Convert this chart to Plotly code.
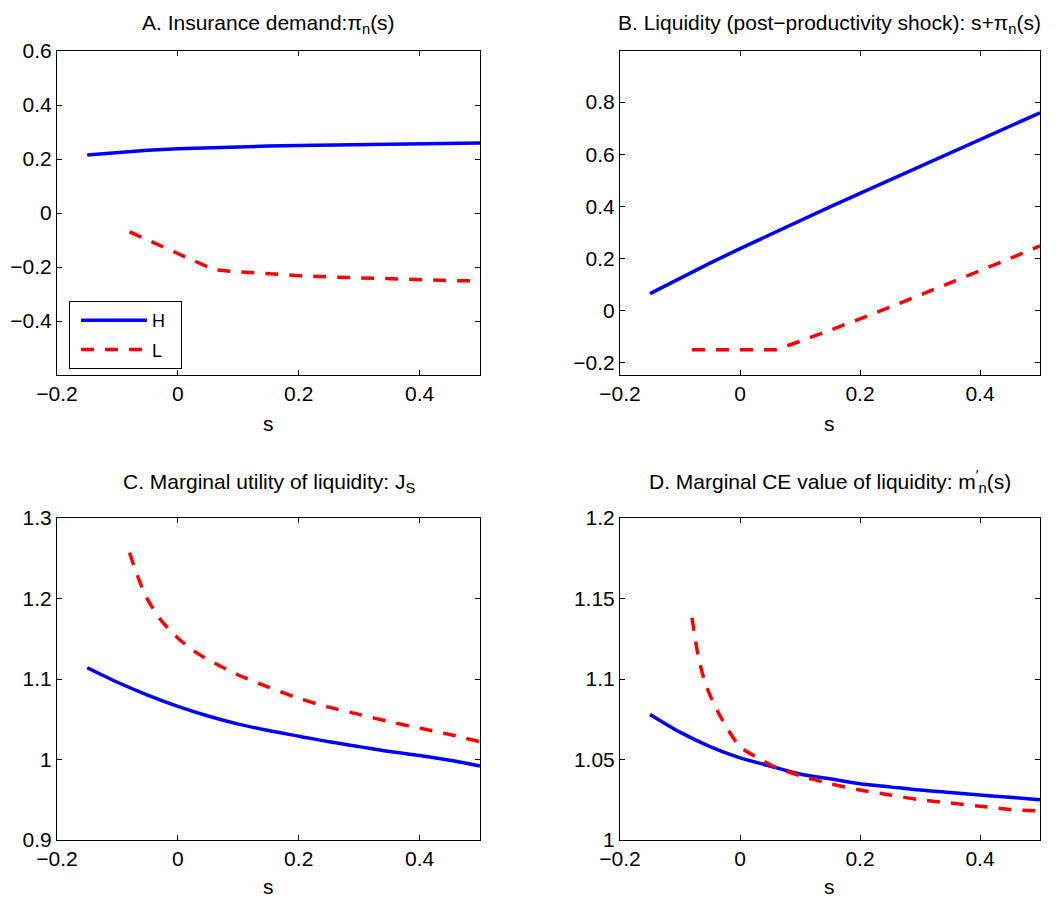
import plotly.graph_objects as go

# ---------------- data ----------------
s_H = [-0.15, -0.10, -0.05, 0.00, 0.05, 0.10, 0.15, 0.20, 0.25, 0.30, 0.35, 0.40, 0.45, 0.50]
s_L = [-0.08, -0.07, -0.06, -0.05, -0.03, 0.00, 0.03, 0.06, 0.10, 0.15, 0.20, 0.25, 0.30, 0.35, 0.40, 0.45, 0.50]

# A. insurance demand pi_n(s)
pi_H = [0.215, 0.225, 0.232, 0.238, 0.242, 0.245, 0.248, 0.250, 0.252, 0.254, 0.255, 0.257, 0.258, 0.259]
pi_L = [-0.070, -0.080, -0.090, -0.100, -0.120, -0.150, -0.180, -0.210, -0.218, -0.226, -0.232,
        -0.237, -0.241, -0.245, -0.248, -0.250, -0.252]

# B. liquidity s + pi_n(s)
liq_H = [s + p for s, p in zip(s_H, pi_H)]
liq_L = [s + p for s, p in zip(s_L, pi_L)]

# C. marginal utility of liquidity J_S
J_H = [1.114, 1.096, 1.080, 1.066, 1.054, 1.044, 1.036, 1.029, 1.022, 1.016, 1.010, 1.005, 0.999, 0.992]
J_L = [1.257, 1.235, 1.215, 1.199, 1.175, 1.151, 1.133, 1.120, 1.105, 1.090, 1.076, 1.065, 1.056,
       1.047, 1.039, 1.031, 1.022]

# D. marginal CE value of liquidity m'_n(s)
m_H = [1.078, 1.067, 1.058, 1.051, 1.046, 1.041, 1.038, 1.035, 1.033, 1.031, 1.0295, 1.028, 1.0265, 1.025]
m_L = [1.138, 1.115, 1.100, 1.090, 1.075, 1.058, 1.051, 1.045, 1.040, 1.035, 1.031, 1.028, 1.025,
       1.023, 1.021, 1.019, 1.018]

x_ticks = [-0.2, 0, 0.2, 0.4]
x_ticktext = ["\u22120.2", "0", "0.2", "0.4"]
yA_ticks = [-0.4, -0.2, 0, 0.2, 0.4, 0.6]
yA_text = ["\u22120.4", "\u22120.2", "0", "0.2", "0.4", "0.6"]
yB_ticks = [-0.2, 0, 0.2, 0.4, 0.6, 0.8]
yB_text = ["\u22120.2", "0", "0.2", "0.4", "0.6", "0.8"]
yC_ticks = [0.9, 1.0, 1.1, 1.2, 1.3]
yC_text = ["0.9", "1", "1.1", "1.2", "1.3"]
yD_ticks = [1.0, 1.05, 1.1, 1.15, 1.2]
yD_text = ["1", "1.05", "1.1", "1.15", "1.2"]

titles = [
    "A. Insurance demand:\u03c0<sub>n</sub>(s)",
    "B. Liquidity (post\u2212productivity shock): s+\u03c0<sub>n</sub>(s)",
    "C. Marginal utility of liquidity: J<sub>S</sub>",
    "D. Marginal CE value of liquidity: m<sup>\u2032</sup><sub>n</sub>(s)",
]
legend_names = ["H", "L"]

# ---------------- layout helpers ----------------
OFF = 0
W, H = 1062, 901
FONT = "Liberation Sans, Arial, Helvetica, sans-serif"
FS = 21


def px_x(x):
    return (x - OFF) / W


def px_y(y):
    return 1 - (y - OFF) / H


BLUE = "rgb(0,0,255)"
RED = "rgb(255,0,0)"
LW = 3.5
DASH = "13px,11px"

xdoms = [(px_x(57), px_x(480)), (px_x(620), px_x(1040))]
ydoms = [(px_y(375), px_y(51)), (px_y(840), px_y(518))]
title_bottom_px = [39, 498]
xlabel_px = [423, 886]

fig = go.Figure()

panels = [
    (s_H, pi_H, s_L, pi_L, [-0.6, 0.6], yA_ticks, yA_text, "linear"),
    (s_H, liq_H, s_L, liq_L, [-0.247, 0.996], yB_ticks, yB_text, "linear"),
    (s_H, J_H, s_L, J_L, [0.9, 1.3], yC_ticks, yC_text, "spline"),
    (s_H, m_H, s_L, m_L, [1.0, 1.2], yD_ticks, yD_text, "spline"),
]

for i, (xh, yh, xl, yl, yr, yt, ytt, shape) in enumerate(panels):
    n = i + 1
    xa = "x" if n == 1 else f"x{n}"
    ya = "y" if n == 1 else f"y{n}"
    fig.add_trace(go.Scatter(x=xh, y=yh, mode="lines", name=legend_names[0] + "\u00a0\u00a0",
                             xaxis=xa, yaxis=ya, legendgroup="H",
                             line=dict(color=BLUE, width=LW, shape=shape, smoothing=0.8),
                             showlegend=(n == 1)))
    fig.add_trace(go.Scatter(x=xl, y=yl, mode="lines", name=legend_names[1] + "\u00a0\u00a0",
                             xaxis=xa, yaxis=ya, legendgroup="L",
                             line=dict(color=RED, width=LW, dash=DASH, shape=shape, smoothing=0.8),
                             showlegend=(n == 1)))
    col = i % 2
    row = i // 2
    axis_common = dict(showgrid=False, zeroline=False, showline=True, linecolor="black",
                       linewidth=1, mirror="allticks", ticks="inside", ticklen=5,
                       tickcolor="black", automargin=False,
                       tickfont=dict(family=FONT, size=FS, color="black"))
    xkey = "xaxis" if n == 1 else f"xaxis{n}"
    ykey = "yaxis" if n == 1 else f"yaxis{n}"
    fig.update_layout({
        xkey: dict(domain=list(xdoms[col]), range=[-0.2, 0.5], anchor=ya,
                   tickvals=x_ticks, ticktext=x_ticktext, **axis_common),
        ykey: dict(domain=list(ydoms[row]), range=yr, anchor=xa,
                   tickvals=yt, ticktext=ytt, **axis_common),
    })
    cx = (xdoms[col][0] + xdoms[col][1]) / 2
    fig.add_annotation(text=titles[i], x=cx, y=px_y(title_bottom_px[row]), xref="paper", yref="paper",
                       xanchor="center", yanchor="bottom", showarrow=False,
                       font=dict(family=FONT, size=FS, color="black"))
    fig.add_annotation(text="s", x=cx, y=px_y(xlabel_px[row]), xref="paper", yref="paper",
                       xanchor="center", yanchor="middle", showarrow=False,
                       font=dict(family=FONT, size=FS, color="black"))

fig.update_layout(
    template="none",
    width=W, height=H,
    margin=dict(l=0, r=0, t=0, b=0, autoexpand=False),
    paper_bgcolor="white", plot_bgcolor="white",
    showlegend=True,
    legend=dict(x=px_x(69), y=px_y(301), xanchor="left", yanchor="top",
                bordercolor="black", borderwidth=1, bgcolor="white",
                font=dict(family=FONT, size=18, color="black"), itemwidth=66,
                indentation=6, tracegroupgap=3),
)

fig.write_html("out.html",
               config={"displayModeBar": False},
               post_script="document.body.style.margin='0';document.body.style.overflow='hidden';")
